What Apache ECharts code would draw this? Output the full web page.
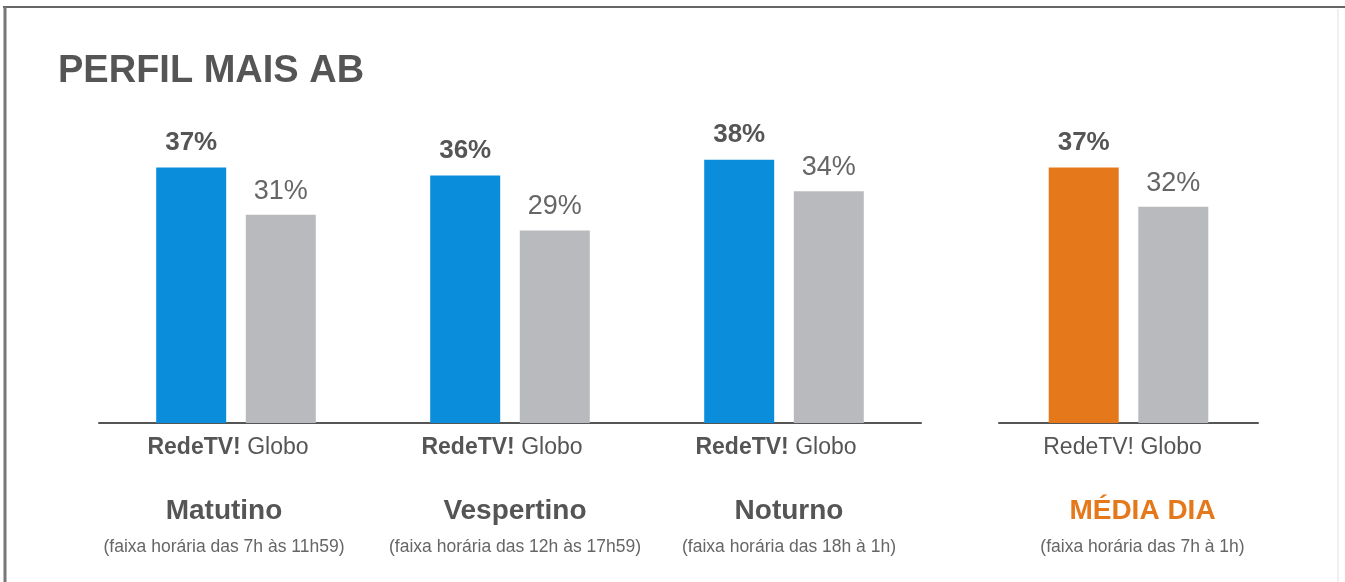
<!DOCTYPE html>
<html>
<head>
<meta charset="utf-8">
<script src="https://cdn.jsdelivr.net/npm/echarts@6/dist/echarts.min.js"></script>
<style>
html,body{margin:0;padding:0;background:#fff;}
#chart{width:1345px;height:582px;}
</style>
</head>
<body>
<div id="chart"></div>
<script>
const titleText = 'PERFIL MAIS AB';
const seriesNames = ['RedeTV!', 'Globo'];
const periods = ['Matutino', 'Vespertino', 'Noturno'];
const periodNotes = ['(faixa horária das 7h às 11h59)', '(faixa horária das 12h às 17h59)', '(faixa horária das 18h à 1h)'];
const redeTVValues = [37, 36, 38];
const globoValues = [31, 29, 34];
const dayCategory = ['MÉDIA DIA'];
const dayNotes = ['(faixa horária das 7h à 1h)'];
const dayRedeTV = [37];
const dayGlobo = [32];

const FONT = '"Liberation Sans", Arial, sans-serif';
const BLUE = '#0A8EDB';
const GREY = '#B8BABD';
const ORANGE = '#E5781A';
const TXT = '#555';

function baseRich(boldName, nameColor) {
  return {
    r: { fontFamily: FONT, fontSize: 23, fontWeight: boldName ? 'bold' : 'normal', color: TXT, lineHeight: 30 },
    sp: { fontSize: 10, lineHeight: 32 },
    c: { fontFamily: FONT, fontSize: 28, fontWeight: 'bold', color: nameColor, lineHeight: 32 },
    s: { fontFamily: FONT, fontSize: 17.5, color: '#666', lineHeight: 40 }
  };
}
const richMain = baseRich(true, TXT);
richMain.g0 = { fontFamily: FONT, fontSize: 23, color: TXT, lineHeight: 30, padding: [0, 16, 0, 0] };
richMain.g1 = richMain.g0; richMain.g2 = richMain.g0;
richMain.c0 = Object.assign({}, richMain.c, { padding: [0, 24, 0, 0] });
richMain.c1 = Object.assign({}, richMain.c, { padding: [0, 0, 0, 10] });
richMain.c2 = Object.assign({}, richMain.c, { padding: [0, 0, 0, 10] });
richMain.s0 = Object.assign({}, richMain.s, { padding: [0, 24, 0, 0] });
richMain.s1 = Object.assign({}, richMain.s, { padding: [0, 0, 0, 10] });
richMain.s2 = Object.assign({}, richMain.s, { padding: [0, 0, 0, 10] });

const richDay = baseRich(false, ORANGE);
richDay.g0 = { fontFamily: FONT, fontSize: 23, color: TXT, lineHeight: 30, padding: [0, 12, 0, 0] };
richDay.c0 = Object.assign({}, richDay.c, { padding: [0, 0, 0, 28] });
richDay.s0 = Object.assign({}, richDay.s, { padding: [0, 0, 0, 28] });

function labelFmt(notes) {
  return function (value, idx) {
    return '{r|' + seriesNames[0] + '}{g' + idx + '| ' + seriesNames[1] + '}\n{sp| }\n{c' + idx + '|' + value + '}\n{s' + idx + '|' + notes[idx] + '}';
  };
}

const axisLineStyle = { show: true, lineStyle: { color: '#555', width: 2 } };

const topLabel = (bold, dist) => ({
  show: true, position: 'top', distance: dist,
  formatter: '{c}%', fontFamily: FONT,
  fontSize: bold ? 26 : 27, fontWeight: bold ? 'bold' : 'normal',
  color: bold ? '#555' : '#666'
});

const Y_MIN = 4.5, Y_MAX = 40;

const chart = echarts.init(document.getElementById('chart'), null, { renderer: 'canvas' });
chart.setOption({
  backgroundColor: '#fff',
  animation: false,
  title: {
    text: titleText, left: 53, top: 48,
    textStyle: { fontFamily: FONT, fontSize: 38, fontWeight: 'bold', color: '#555' }
  },
  graphic: [
    { type: 'line', shape: { x1: 3, y1: 7, x2: 1345, y2: 7 }, style: { stroke: '#666', lineWidth: 2 } },
    { type: 'line', shape: { x1: 5, y1: 7, x2: 5, y2: 582 }, style: { stroke: '#777', lineWidth: 3 } },
    { type: 'line', shape: { x1: 1338, y1: 9, x2: 1338, y2: 582 }, style: { stroke: '#f0f0f0', lineWidth: 2 } }
  ],
  grid: [
    { left: 99, width: 822, top: 144, height: 279 },
    { left: 999, width: 259, top: 144, height: 279 }
  ],
  xAxis: [
    { type: 'category', gridIndex: 0, data: periods, axisLine: axisLineStyle, axisTick: { show: false },
      axisLabel: { interval: 0, margin: 10, formatter: labelFmt(periodNotes), rich: richMain } },
    { type: 'category', gridIndex: 1, data: dayCategory, axisLine: axisLineStyle, axisTick: { show: false },
      axisLabel: { interval: 0, margin: 10, formatter: labelFmt(dayNotes), rich: richDay } }
  ],
  yAxis: [
    { type: 'value', gridIndex: 0, min: Y_MIN, max: Y_MAX, show: false, splitLine: { show: false } },
    { type: 'value', gridIndex: 1, min: Y_MIN, max: Y_MAX, show: false, splitLine: { show: false } }
  ],
  series: [
    { name: seriesNames[0], type: 'bar', xAxisIndex: 0, yAxisIndex: 0, data: redeTVValues, barWidth: 70, barGap: '28%',
      itemStyle: { color: BLUE }, label: topLabel(true, 12) },
    { name: seriesNames[1], type: 'bar', xAxisIndex: 0, yAxisIndex: 0, data: globoValues, barWidth: 70, barGap: '28%',
      itemStyle: { color: GREY }, label: topLabel(false, 10) },
    { name: seriesNames[0], type: 'bar', xAxisIndex: 1, yAxisIndex: 1, data: dayRedeTV, barWidth: 70, barGap: '28%',
      itemStyle: { color: ORANGE }, label: topLabel(true, 12) },
    { name: seriesNames[1], type: 'bar', xAxisIndex: 1, yAxisIndex: 1, data: dayGlobo, barWidth: 70, barGap: '28%',
      itemStyle: { color: GREY }, label: topLabel(false, 10) }
  ]
});
</script>
</body>
</html>
